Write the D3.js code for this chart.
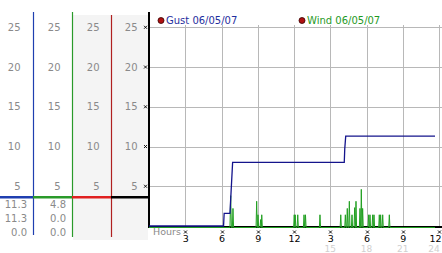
<!DOCTYPE html>
<html><head><meta charset="utf-8">
<script src="https://cdn.jsdelivr.net/npm/d3@7/dist/d3.min.js"></script>
<style>body{margin:0;background:#fff}svg{display:block}text{font-family:"DejaVu Sans",sans-serif;font-size:10px}</style>
</head><body><svg id="c" width="442" height="253"></svg>
<script>
const yTicks = [5, 10, 15, 20, 25];
const xTicks = [3, 6, 9, 12, 15, 18, 21, 24];
const xTickLabels = ["3", "6", "9", "12", "3", "6", "9", "12"];
const xSecondRow = ["", "", "", "", "15", "18", "21", "24"];
const gustTimes = [0, 6.17, 6.22, 6.7, 6.92, 16.16, 16.2, 16.28, 23.67];
const gustValues = [0, 0, 1.6, 1.6, 8.0, 8.0, 9.7, 11.3, 11.3];
const windTimes = [0, 6.70, 6.76, 6.82, 6.90, 6.95, 7.00, 8.86, 8.91, 8.96, 8.98, 9.02, 9.07, 9.19, 9.24, 9.28, 9.30, 9.33, 9.38,
  11.97, 12.02, 12.06, 12.10, 12.15, 12.26, 12.31, 12.36, 12.78, 12.83, 12.88, 12.91, 12.95, 13.0, 14.10, 14.15, 14.20,
  15.82, 15.87, 15.92, 16.20, 16.25, 16.30, 16.36, 16.41, 16.46, 16.53, 16.58, 16.63, 16.75, 16.80, 16.85, 16.97, 17.02, 17.07,
  17.09, 17.13, 17.18, 17.41, 17.46, 17.51, 17.53, 17.57, 17.62, 17.64, 17.68, 17.73, 18.13, 18.18, 18.23, 18.25, 18.29, 18.34,
  18.46, 18.51, 18.56, 18.58, 18.62, 18.67, 19.01, 19.06, 19.11, 19.13, 19.17, 19.22, 19.29, 19.34, 19.39, 19.84, 19.89, 19.94, 23.67];
const windValues = [0, 0, 4.0, 0, 0, 2.4, 0, 0, 3.3, 0, 0, 1.6, 0, 0, 1.0, 0, 0, 1.6, 0,
  0, 1.6, 0, 1.6, 0, 0, 1.6, 0, 0, 1.6, 0, 0, 1.6, 0, 0, 1.6, 0,
  0, 1.6, 0, 0, 1.6, 0, 0, 2.4, 0, 0, 3.3, 0, 0, 1.6, 0, 0, 2.5, 0,
  0, 3.3, 0, 0, 2.4, 0, 0, 4.8, 0, 0, 2.4, 0, 0, 1.6, 0, 0, 1.6, 0,
  0, 1.6, 0, 0, 1.6, 0, 0, 1.6, 0, 0, 1.6, 0, 0, 1.6, 0, 0, 1.6, 0, 0];
const gustStats = ["11.3", "11.3", "0.0"];
const windStats = ["4.8", "0.0", "0.0"];
const legendItems = ["Gust 06/05/07", "Wind 06/05/07"];
const legendColors = ["#1f2f9e", "#1f9a1f"];

const svg = d3.select("#c");
const x = d3.scaleLinear().domain([0, 24]).range([149, 439]);
const y = d3.scaleLinear().domain([0, 25]).range([226, 27.3]);

svg.append("rect").attr("x", 73).attr("y", 15).attr("width", 75).attr("height", 225).attr("fill", "#f4f4f4");

const g = svg.append("g");
g.selectAll("line.h").data(yTicks).join("line")
  .attr("x1", 149).attr("x2", 442).attr("y1", d => Math.round(y(d)) + 0.5).attr("y2", d => Math.round(y(d)) + 0.5)
  .attr("stroke", "#b8b8b8");
g.selectAll("line.v").data(xTicks).join("line")
  .attr("x1", d => Math.round(x(d)) + 0.5).attr("x2", d => Math.round(x(d)) + 0.5)
  .attr("y1", 25).attr("y2", 226).attr("stroke", "#b8b8b8");

const sepX = [33, 72, 111];
const sepColors = ["#1f3fb0", "#2a9a2a", "#b02020"];
const sepTop = [12, 12, 15];
const sepBot = [235, 237, 237];
sepX.forEach((sx, i) => {
  svg.append("line").attr("x1", sx + 0.5).attr("x2", sx + 0.5).attr("y1", sepTop[i]).attr("y2", sepBot[i])
    .attr("stroke", sepColors[i]).attr("stroke-width", 1.2);
});
const barX = [0, 33, 72, 111, 149];
const barColors = ["#1f3fb0", "#2a9a2a", "#e02020", "#000"];
barColors.forEach((c, i) => {
  svg.append("rect").attr("x", barX[i]).attr("y", 196).attr("width", barX[i + 1] - barX[i]).attr("height", 2.5).attr("fill", c);
});

const colRight = [20.5, 60.5, 99.5, 137.5];
colRight.forEach(cx => {
  svg.append("g").selectAll("text").data(yTicks).join("text")
    .attr("x", cx).attr("y", d => y(d)).attr("dy", "0.36em").attr("text-anchor", "end")
    .attr("fill", "#8a8a8a").text(d => d);
});
const mark = (sel, cx, cy) => sel.append("path")
  .attr("d", `M${cx - 1.5},${cy - 1.5}L${cx + 1.5},${cy + 1.5}M${cx + 1.5},${cy - 1.5}L${cx - 1.5},${cy + 1.5}`)
  .attr("stroke", "#000").attr("stroke-width", 0.9);
yTicks.forEach(d => mark(svg, 145.5, y(d)));

const statY = [204, 218, 232];
gustStats.forEach((s, i) => svg.append("text").attr("x", 27).attr("y", statY[i]).attr("dy", "0.36em")
  .attr("text-anchor", "end").attr("fill", "#8a8a8a").text(s));
windStats.forEach((s, i) => svg.append("text").attr("x", 66).attr("y", statY[i]).attr("dy", "0.36em")
  .attr("text-anchor", "end").attr("fill", "#8a8a8a").text(s));

svg.append("rect").attr("x", 148).attr("y", 12).attr("width", 2).attr("height", 216).attr("fill", "#000");
svg.append("rect").attr("x", 148).attr("y", 226).attr("width", 294).attr("height", 2).attr("fill", "#000");

const windPts = windTimes.map((t, i) => [t, windValues[i]]);
svg.append("path").datum(windPts)
  .attr("d", d3.line().x(d => x(d[0])).y(d => y(d[1]) + 1.5))
  .attr("fill", "none").attr("stroke", "#22a022").attr("stroke-width", 1);
const gustPts = gustTimes.map((t, i) => [t, gustValues[i]]);
svg.append("path").datum(gustPts)
  .attr("d", d3.line().x(d => x(d[0])).y(d => y(d[1])))
  .attr("fill", "none").attr("stroke", "#14148c").attr("stroke-width", 1.3);

xTicks.forEach((t, i) => {
  mark(svg, Math.round(x(t)) + 0.5, 232);
  const last = i === xTicks.length - 1;
  svg.append("text").attr("x", last ? 441.5 : x(t) + 0.5).attr("y", 238.5).attr("dy", "0.36em")
    .attr("text-anchor", last ? "end" : "middle").style("font-size", "9.5px")
    .attr("fill", "#000").text(xTickLabels[i]);
  if (xSecondRow[i]) svg.append("text").attr("x", x(t) - (last ? 5 : 0)).attr("y", 248.5).attr("dy", "0.36em")
    .attr("text-anchor", "middle").attr("fill", "#d0d0d0").style("font-size", "9px").text(xSecondRow[i]);
});
svg.append("text").attr("x", 153).attr("y", 232).attr("dy", "0.36em").attr("fill", "#8a8a8a")
  .style("font-size", "9.5px").text("Hours");

const legX = [161, 302];
legendItems.forEach((s, i) => {
  svg.append("circle").attr("cx", legX[i]).attr("cy", 20.5).attr("r", 3).attr("fill", "#b01010").attr("stroke", "#300").attr("stroke-width", 0.8);
  svg.append("text").attr("x", legX[i] + 5).attr("y", 20.5).attr("dy", "0.36em").attr("fill", legendColors[i]).text(s);
});
</script></body></html>
